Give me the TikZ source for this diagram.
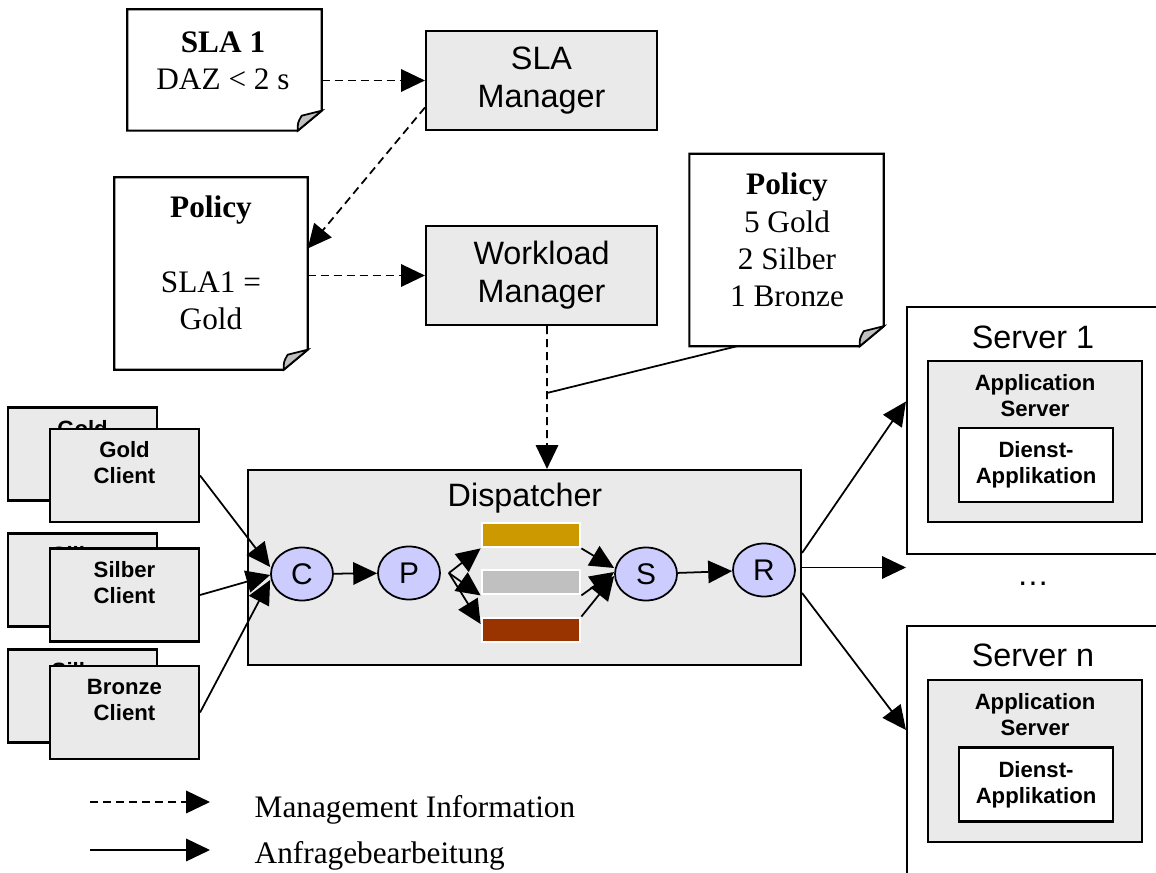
\documentclass[tikz,border=0pt]{standalone}
\usepackage{fontspec}
\setmainfont{Liberation Serif}
\setsansfont{Liberation Sans}
\usetikzlibrary{arrows.meta,shapes.geometric,calc}

\definecolor{boxgray}{RGB}{234,234,234}
\definecolor{stagefill}{RGB}{204,204,255}
\definecolor{foldgray}{RGB}{192,192,192}
\definecolor{goldq}{RGB}{204,153,0}
\definecolor{silberq}{RGB}{192,192,192}
\definecolor{bronzeq}{RGB}{153,51,0}

\newcommand{\headfont}{\sffamily\fontsize{9.2pt}{10.8pt}\selectfont}
\newcommand{\labelfont}{\sffamily\bfseries\fontsize{6.3pt}{7.4pt}\selectfont}
\newcommand{\stagefont}{\sffamily\fontsize{8.5pt}{10pt}\selectfont}
\newcommand{\docfont}{\rmfamily\fontsize{8.9pt}{10.6pt}\selectfont}

% sheet with a dog-eared corner round an empty node
\newcommand{\docframe}[1]{%
  \draw[line width=0.6pt] (#1.north west) -- (#1.north east) -- ([yshift=0.2cm]#1.south east)
    -- ([xshift=-0.24cm]#1.south east) -- (#1.south west) -- cycle;
  \draw[line width=0.5pt, fill=foldgray] ([xshift=-0.24cm]#1.south east)
    .. controls ([xshift=-0.24cm,yshift=0.08cm]#1.south east) .. ([xshift=-0.2cm,yshift=0.15cm]#1.south east)
    -- ([yshift=0.2cm]#1.south east) -- cycle;}

\tikzset{
  box/.style={draw, line width=0.6pt, fill=boxgray, inner sep=0pt},
  manager/.style={box, minimum width=2.31cm, minimum height=0.99cm, align=center, font=\headfont},
  client/.style={box, minimum width=1.49cm, minimum height=0.93cm, align=center, font=\labelfont},
  server/.style={draw, line width=0.6pt, fill=white, minimum width=2.56cm, inner sep=0pt},
  appbox/.style={box, minimum width=2.14cm, inner sep=0pt},
  dienst/.style={draw, line width=0.6pt, fill=white, minimum width=1.54cm, minimum height=0.74cm,
    align=center, font=\labelfont, inner sep=0pt},
  stage/.style={ellipse, draw, line width=0.5pt, fill=stagefill, minimum width=0.62cm,
    minimum height=0.53cm, inner sep=0pt, font=\stagefont},
  qbar/.style={draw=white, line width=0.8pt, minimum width=0.98cm, minimum height=0.24cm, inner sep=0pt},
  docfr/.style={minimum width=1.93cm, minimum height=1.91cm, inner sep=0pt},
  doctext/.style={align=center, font=\docfont, inner sep=0pt},
  req/.style={line width=0.5pt, -{Triangle[length=6.8pt, width=6.4pt]}},
  mgmt/.style={req, dash pattern=on 2.3pt off 1.4pt},
}

\begin{document}
\begin{tikzpicture}
  \path[use as bounding box, clip] (0,0) rectangle (11.56,8.72);

  % ===== SLA and policy sheets, managers =====
  \node[docfr, minimum height=1.2cm] (sla) at (2.245,8.02) {};
  \docframe{sla}
  \node[doctext] (slaT) at (2.23,8.11) {\textbf{SLA 1}\\DAZ < 2 s};

  \node[docfr, minimum width=1.92cm] (polL) at (2.11,5.985) {};
  \docframe{polL}
  \node[doctext] (polLT) at (2.11,6.09) {\textbf{Policy}\\[10.6pt]SLA1 =\\Gold};

  \node[docfr] (polR) at (7.865,6.22) {};
  \docframe{polR}
  \node[doctext] (polRT) at (7.87,6.32) {\textbf{Policy}\\5 Gold\\2 Silber\\1 Bronze};

  \node[manager] (slamgr) at (5.415,7.915) {SLA\\Manager};
  \node[manager] (wlmgr) at (5.415,5.965) {Workload\\Manager};

  % ===== dispatcher =====
  \node[box, minimum width=5.53cm, minimum height=1.95cm] (disp) at (5.245,3.045) {};
  \node[font=\headfont, inner sep=0pt] (dispT) at (5.25,3.74) {Dispatcher};

  \node[stage] (C) at (3.02,2.98) {C};
  \node[stage] (P) at (4.09,2.99) {P};
  \node[stage] (S) at (6.46,2.98) {S};
  \node[stage] (R) at (7.64,3.02) {R};

  \node[qbar, fill=goldq] (gq) at (5.31,3.37) {};
  \node[qbar, fill=silberq] (sq) at (5.31,2.90) {};
  \node[qbar, fill=bronzeq] (bq) at (5.31,2.42) {};

  % ===== clients (a second sheet behind each) =====
  \node[client] (gclb) at (0.825,4.18) {Gold\\Client\\~};
  \node[client] (gcl) at (1.245,3.965) {Gold\\Client\\~};
  \node[client] (sclb) at (0.825,2.92) {Silber\\Client\\~};
  \node[client] (scl) at (1.245,2.77) {Silber\\Client\\~};
  \node[client] (bclb) at (0.825,1.76) {Silber\\Client\\~};
  \node[client] (bcl) at (1.245,1.595) {Bronze\\Client\\~};

  % ===== servers =====
  \node[server, minimum height=2.47cm] (srv1) at (10.35,4.415) {};
  \node[font=\headfont, inner sep=0pt] (srv1T) at (10.33,5.35) {Server 1};
  \node[appbox, minimum height=1.61cm] (as1) at (10.35,4.305) {};
  \node[align=center, font=\labelfont, inner sep=0pt] (as1T) at (10.35,4.76) {Application\\Server};
  \node[dienst] (da1) at (10.36,4.07) {Dienst-\\Applikation};

  \node[font=\headfont, inner sep=0pt] (dots) at (10.33,2.88) {…};

  \node[server, minimum height=2.66cm] (srvn) at (10.35,1.13) {};
  \node[font=\headfont, inner sep=0pt] (srvnT) at (10.33,2.17) {Server n};
  \node[appbox, minimum height=1.62cm] (asn) at (10.35,1.11) {};
  \node[align=center, font=\labelfont, inner sep=0pt] (asnT) at (10.35,1.57) {Application\\Server};
  \node[dienst] (dan) at (10.36,0.875) {Dienst-\\Applikation};

  % ===== management information =====
  \draw[mgmt] (sla.east |- slamgr.west) -- (slamgr.west);
  \draw[mgmt] ([yshift=-0.27cm]slamgr.west) -- ([yshift=0.25cm]polL.east);
  \draw[mgmt] (polL.east |- wlmgr.west) -- (wlmgr.west);
  \coordinate (tap) at (5.47,4.79);
  \draw[mgmt] ([xshift=0.055cm]wlmgr.south) -- (tap) -- (tap |- disp.north);
  \draw[line width=0.5pt] ([xshift=-0.495cm]polR.south) -- (tap);

  % ===== request path =====
  \draw[req] (gcl.east) -- ([yshift=0.07cm]C.west);
  \draw[req] (scl.east) -- ([yshift=-0.01cm]C.west);
  \draw[req] (bcl.east) -- ([yshift=-0.06cm]C.west);
  \draw[req] (C) -- (P);
  \coordinate (fan) at ([xshift=0.08cm]P.east);
  \draw[req] (fan) -- (gq.south west);
  \draw[req] (fan) -- (sq.south west);
  \draw[req] (fan) -- ([yshift=0.06cm]bq.west);
  \draw[req] (gq.south east) -- ([yshift=0.06cm]S.west);
  \draw[req] (sq.south east) -- ([yshift=0.02cm]S.west);
  \draw[req] (bq.north east) -- ([yshift=-0.02cm]S.west);
  \draw[req] (S) -- (R);
  \draw[req] ([yshift=0.145cm]disp.east) -- ([yshift=0.29cm]srv1.west);
  \draw[req] (disp.east) -- (disp.east -| srv1.west);
  \draw[req] ([yshift=-0.255cm]disp.east) -- ([yshift=0.29cm]srvn.west);

  % ===== legend =====
  \coordinate (lgM) at (0.90,0.70);
  \coordinate (lgMe) at (2.10,0.70);
  \draw[mgmt] (lgM) -- (lgMe);
  \node[font=\docfont, anchor=base west, inner sep=0pt] (lgMT) at (2.54,0.55) {Management Information};
  \coordinate (lgA) at (0.90,0.22);
  \coordinate (lgAe) at (2.10,0.22);
  \draw[req] (lgA) -- (lgAe);
  \node[font=\docfont, anchor=base west, inner sep=0pt] (lgAT) at (2.54,0.09) {Anfragebearbeitung};
\end{tikzpicture}
\end{document}
